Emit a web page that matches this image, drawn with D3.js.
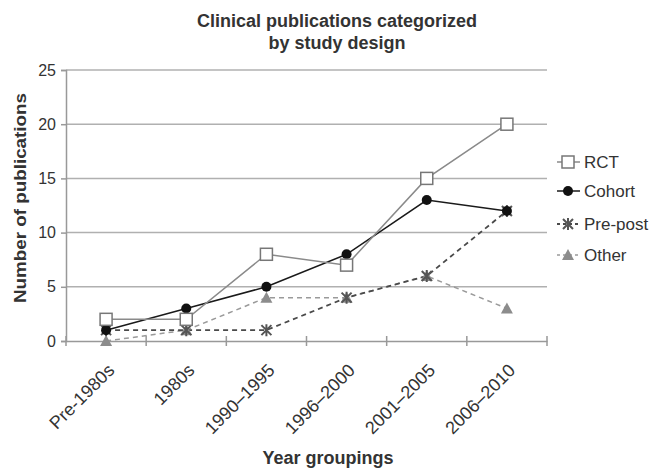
<!DOCTYPE html>
<html><head><meta charset="utf-8">
<script src="https://cdn.jsdelivr.net/npm/d3@7"></script>
<style>body{margin:0;background:#fff}svg{font-family:"Liberation Sans",Arial,sans-serif}</style>
</head><body>
<svg id="c" width="658" height="469"></svg>
<script>
const categories = ["Pre-1980s","1980s","1990\u20131995","1996\u20132000","2001\u20132005","2006\u20132010"];
const seriesNames = ["RCT","Cohort","Pre-post","Other"];
const rct = [2,2,8,7,15,20];
const cohort = [1,3,5,8,13,12];
const prepost = [1,1,1,4,6,12];
const other = [0,1,4,4,6,3];
const yTicks = [0,5,10,15,20,25];

const styles = {
  "RCT": {line:"#8a8a8a", dash:null, w:1.5, marker:"square"},
  "Cohort": {line:"#1a1a1a", dash:null, w:1.5, marker:"circle"},
  "Pre-post": {line:"#4a4a4a", dash:"5,4", w:1.8, marker:"asterisk"},
  "Other": {line:"#9a9a9a", dash:"5,4", w:1.5, marker:"triangle"}
};
const data = [rct, cohort, prepost, other];

const svg = d3.select("#c");
const m = {l:66, r:547, t:70, b:341};
const x = d3.scaleBand().domain(categories).range([m.l, m.r]);
const y = d3.scaleLinear().domain([0,25]).range([m.b, m.t]);

// gridlines
svg.append("g").selectAll("line").data(yTicks.filter(d=>d>0)).join("line")
  .attr("x1", m.l).attr("x2", m.r).attr("y1", d=>y(d)).attr("y2", d=>y(d))
  .attr("stroke", "#b0b0b0").attr("stroke-width", 1.5);

// y axis
const ya = svg.append("g").attr("transform", `translate(${m.l},0)`)
  .call(d3.axisLeft(y).tickValues(yTicks).tickSize(5).tickPadding(5));
ya.select(".domain").attr("stroke","#999").attr("stroke-width",1.5);
ya.selectAll(".tick line").attr("stroke","#999").attr("stroke-width",1.5);
ya.selectAll("text").attr("font-size", 16).attr("fill","#333");

// x axis
const xa = svg.append("g").attr("transform", `translate(0,${m.b})`)
  .call(d3.axisBottom(x).tickSize(0).tickSizeOuter(0));
xa.select(".domain").attr("stroke","#999").attr("stroke-width",1.5);
xa.selectAll(".tick text")
  .attr("font-size", 18).attr("fill","#333")
  .attr("text-anchor","end")
  .attr("x",0).attr("y",0).attr("dy","0.35em")
  .attr("transform","translate(5,26) rotate(-45)");
// boundary ticks
const bounds = categories.map(c=>x(c)).concat([m.r]);
svg.append("g").selectAll("line").data(bounds).join("line")
  .attr("x1", d=>d).attr("x2", d=>d).attr("y1", m.b-5).attr("y2", m.b+5)
  .attr("stroke","#999").attr("stroke-width",1.5);

function drawMarker(g, type, cx, cy, st) {
  if (type==="square") {
    g.append("rect").attr("x",cx-6).attr("y",cy-6).attr("width",12).attr("height",12)
      .attr("fill","#fff").attr("stroke","#777").attr("stroke-width",1.5);
  } else if (type==="circle") {
    g.append("circle").attr("cx",cx).attr("cy",cy).attr("r",5).attr("fill","#111");
  } else if (type==="asterisk") {
    const s=5;
    g.append("path").attr("d",`M${cx-s},${cy-s}L${cx+s},${cy+s}M${cx-s},${cy+s}L${cx+s},${cy-s}M${cx},${cy-s-1}L${cx},${cy+s+1}`)
      .attr("stroke","#555").attr("stroke-width",2).attr("fill","none");
  } else if (type==="triangle") {
    g.append("path").attr("d",`M${cx},${cy-6}L${cx+6},${cy+5}L${cx-6},${cy+5}Z`).attr("fill","#8c8c8c");
  }
}

const cx = c => x(c) + x.bandwidth()/2;
[3,2,1,0].forEach(i=>{
  const name = seriesNames[i], st = styles[name], vals = data[i];
  const line = d3.line().x((d,j)=>cx(categories[j])).y(d=>y(d));
  svg.append("path").datum(vals).attr("d", line)
    .attr("fill","none").attr("stroke", st.line).attr("stroke-width", st.w)
    .attr("stroke-dasharray", st.dash);
});
[3,2,1,0].forEach(i=>{
  const name = seriesNames[i], st = styles[name], vals = data[i];
  const g = svg.append("g");
  vals.forEach((v,j)=>drawMarker(g, st.marker, cx(categories[j]), y(v), st));
});

// legend
const legY = [162,191,224,255];
seriesNames.forEach((name,i)=>{
  const st = styles[name];
  const g = svg.append("g");
  g.append("line").attr("x1",557).attr("x2",580).attr("y1",legY[i]).attr("y2",legY[i])
    .attr("stroke",st.line).attr("stroke-width",st.w).attr("stroke-dasharray", st.dash ? "3,3" : null);
  drawMarker(g, st.marker, 568, legY[i], st);
  g.append("text").attr("x",584).attr("y",legY[i]).attr("dy","0.35em")
    .attr("font-size",17).attr("fill","#333").text(name);
});

// titles
svg.append("text").attr("x",337).attr("y",27).attr("text-anchor","middle")
  .attr("font-size",18).attr("font-weight","bold").attr("fill","#333").text("Clinical publications categorized");
svg.append("text").attr("x",337).attr("y",49).attr("text-anchor","middle")
  .attr("font-size",18).attr("font-weight","bold").attr("fill","#333").text("by study design");
svg.append("text").attr("x",328).attr("y",464).attr("text-anchor","middle")
  .attr("font-size",18).attr("font-weight","bold").attr("fill","#333").text("Year groupings");
svg.append("text").attr("transform","translate(26,198) rotate(-90)").attr("text-anchor","middle")
  .attr("font-size",17).attr("font-weight","bold").attr("fill","#333")
  .attr("textLength",210).attr("lengthAdjust","spacingAndGlyphs").text("Number of publications");
</script>
</body></html>
